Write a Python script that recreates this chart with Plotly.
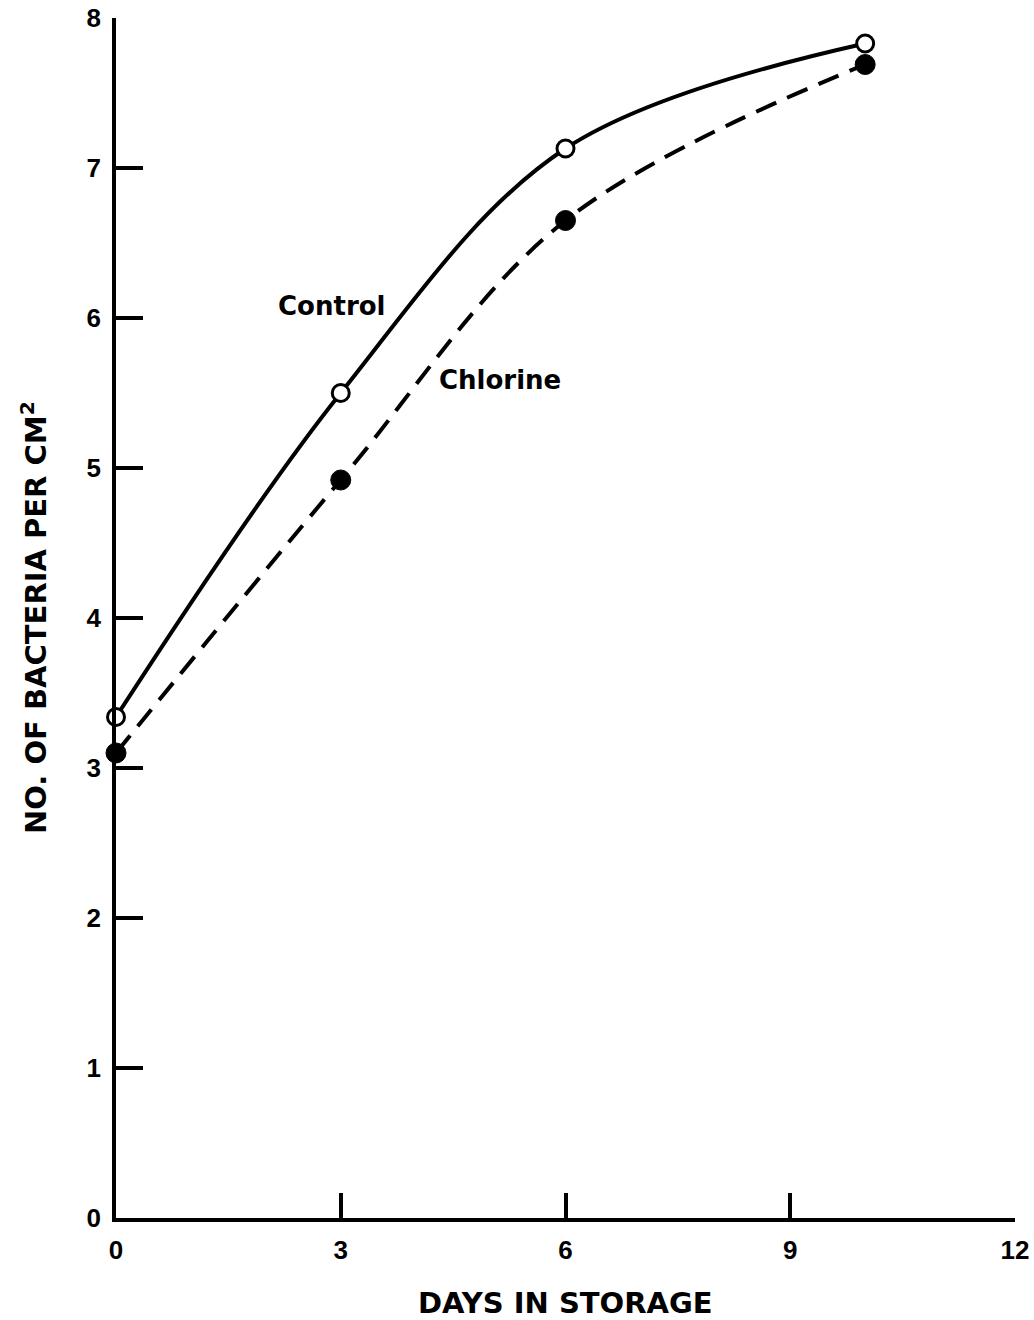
import plotly.graph_objects as go

days = [0, 3, 6, 10]
control = [3.34, 5.5, 7.13, 7.83]
chlorine = [3.1, 4.92, 6.65, 7.69]
x_ticks = [0, 3, 6, 9, 12]
y_ticks = [0, 1, 2, 3, 4, 5, 6, 7, 8]

TICKFONT = "Liberation Sans"
TITLEFONT = "DejaVu Sans"

fig = go.Figure()
fig.add_trace(go.Scatter(
    x=days, y=chlorine, mode="lines+markers", name="Chlorine",
    line=dict(color="black", width=4, dash="22px,12px", shape="spline", smoothing=1.0),
    marker=dict(symbol="circle", size=20, color="black", line=dict(color="black", width=1)),
    cliponaxis=False,
))
fig.add_trace(go.Scatter(
    x=days, y=control, mode="lines+markers", name="Control",
    line=dict(color="black", width=4, shape="spline", smoothing=1.0),
    marker=dict(symbol="circle", size=17, color="white", line=dict(color="black", width=3)),
    cliponaxis=False,
))

fig.add_annotation(x=2.88, y=6.08, text="Control", showarrow=False,
                   font=dict(family=TITLEFONT, size=26, color="black", weight="bold"))
fig.add_annotation(x=5.13, y=5.59, text="Chlorine", showarrow=False,
                   font=dict(family=TITLEFONT, size=26, color="black", weight="bold"))

# axis titles as paper-anchored annotations
fig.add_annotation(xref="paper", yref="paper", x=0.5, y=0, yshift=-85,
                   xanchor="center", yanchor="middle", showarrow=False,
                   text="DAYS IN STORAGE",
                   font=dict(family=TITLEFONT, size=29, color="black", weight="bold"))
fig.add_annotation(xref="paper", yref="paper", x=0, y=0.5, xshift=-82,
                   xanchor="center", yanchor="middle", showarrow=False, textangle=-90,
                   text="NO. OF BACTERIA PER CM<sup>2</sup>",
                   font=dict(family=TITLEFONT, size=29, color="black", weight="bold"))

fig.update_layout(
    width=1034, height=1320,
    margin=dict(l=116, r=19, t=18, b=102, autoexpand=False),
    paper_bgcolor="white", plot_bgcolor="white",
    showlegend=False,
    font=dict(family=TICKFONT, color="black"),
)
fig.update_xaxes(
    range=[0, 12], tickvals=x_ticks, ticktext=[str(v) for v in x_ticks],
    showgrid=False, zeroline=False, showline=True, linecolor="black", linewidth=3.5,
    ticks="inside", ticklen=25, tickwidth=3.5, tickcolor="black",
    tickfont=dict(family=TICKFONT, size=26, color="black", weight="bold"),
    ticklabelstandoff=6, automargin=False,
)
fig.update_yaxes(
    range=[0, 8], tickvals=y_ticks, ticktext=[str(v) for v in y_ticks],
    showgrid=False, zeroline=False, showline=True, linecolor="black", linewidth=3.5,
    ticks="inside", ticklen=27, tickwidth=3.5, tickcolor="black",
    tickfont=dict(family=TICKFONT, size=26, color="black", weight="bold"),
    ticklabelstandoff=6, automargin=False,
)

fig.write_html("out.html")
